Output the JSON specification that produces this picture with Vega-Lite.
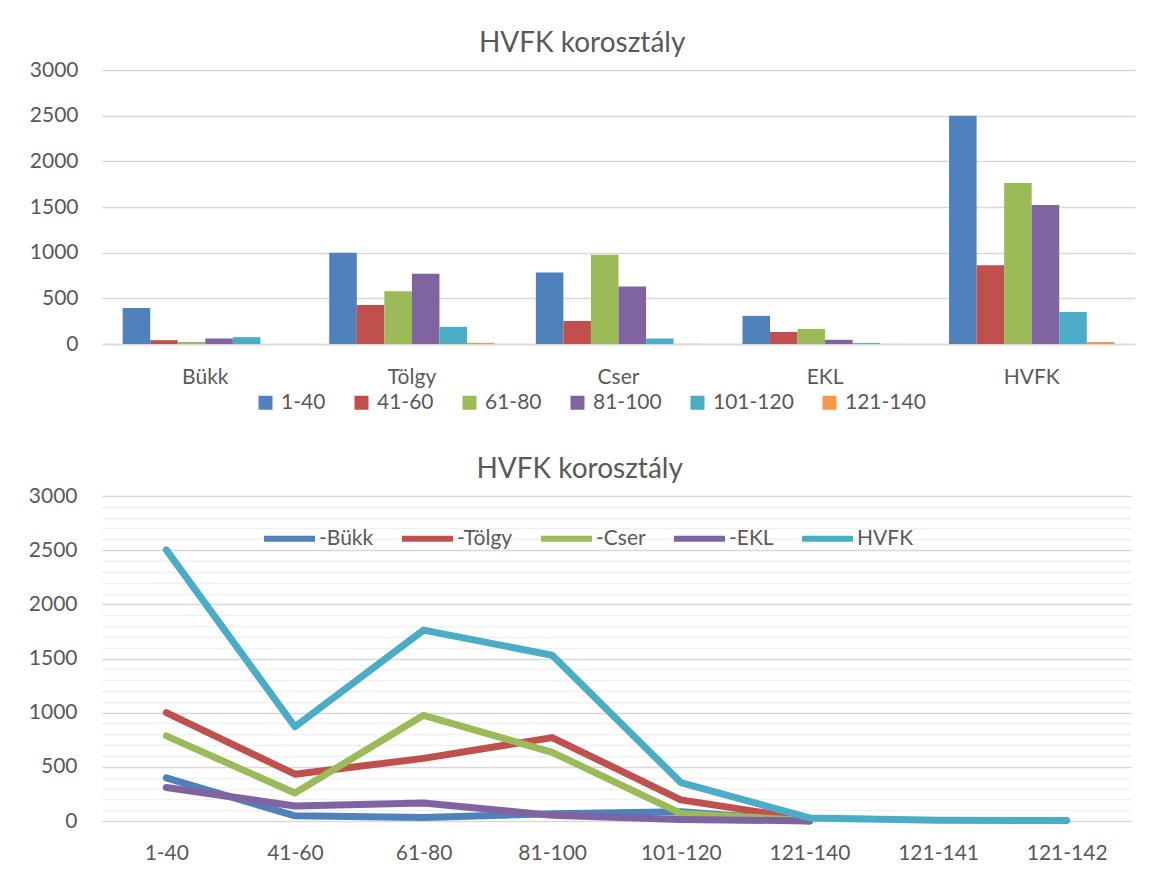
{
  "$schema": "https://vega.github.io/schema/vega-lite/v6.json",
  "background": "white",
  "padding": {"left": 28, "top": 30, "right": 10, "bottom": 5},
  "spacing": 43,
  "resolve": {"scale": {"color": "independent"}, "legend": {"color": "independent"}},
  "config": {
    "font": "Lato",
    "view": {"stroke": null},
    "axis": {
      "labelFont": "Lato",
      "labelColor": "#595959",
      "labelFontSize": 21,
      "ticks": false,
      "domain": false,
      "title": null,
      "gridColor": "#d9d9d9",
      "gridWidth": 1.5
    },
    "title": {
      "font": "Lato",
      "fontSize": 28,
      "color": "#595959",
      "fontWeight": "normal",
      "frame": "bounds",
      "anchor": "middle",
      "offset": 1
    },
    "legend": {
      "labelFont": "Lato",
      "labelColor": "#595959",
      "labelFontSize": 21,
      "title": null
    }
  },
  "datasets": {
    "bars": [
      {"faj": "Bükk", "kor": "1-40", "ertek": 395},
      {"faj": "Bükk", "kor": "41-60", "ertek": 42},
      {"faj": "Bükk", "kor": "61-80", "ertek": 22},
      {"faj": "Bükk", "kor": "81-100", "ertek": 60},
      {"faj": "Bükk", "kor": "101-120", "ertek": 75},
      {"faj": "Bükk", "kor": "121-140", "ertek": 0},
      {"faj": "Tölgy", "kor": "1-40", "ertek": 1000},
      {"faj": "Tölgy", "kor": "41-60", "ertek": 428},
      {"faj": "Tölgy", "kor": "61-80", "ertek": 578},
      {"faj": "Tölgy", "kor": "81-100", "ertek": 768},
      {"faj": "Tölgy", "kor": "101-120", "ertek": 188},
      {"faj": "Tölgy", "kor": "121-140", "ertek": 12},
      {"faj": "Cser", "kor": "1-40", "ertek": 782},
      {"faj": "Cser", "kor": "41-60", "ertek": 252},
      {"faj": "Cser", "kor": "61-80", "ertek": 976},
      {"faj": "Cser", "kor": "81-100", "ertek": 630},
      {"faj": "Cser", "kor": "101-120", "ertek": 60},
      {"faj": "Cser", "kor": "121-140", "ertek": 2},
      {"faj": "EKL", "kor": "1-40", "ertek": 308},
      {"faj": "EKL", "kor": "41-60", "ertek": 132},
      {"faj": "EKL", "kor": "61-80", "ertek": 165},
      {"faj": "EKL", "kor": "81-100", "ertek": 46},
      {"faj": "EKL", "kor": "101-120", "ertek": 10},
      {"faj": "EKL", "kor": "121-140", "ertek": 1},
      {"faj": "HVFK", "kor": "1-40", "ertek": 2500},
      {"faj": "HVFK", "kor": "41-60", "ertek": 862},
      {"faj": "HVFK", "kor": "61-80", "ertek": 1762},
      {"faj": "HVFK", "kor": "81-100", "ertek": 1522},
      {"faj": "HVFK", "kor": "101-120", "ertek": 350},
      {"faj": "HVFK", "kor": "121-140", "ertek": 22}
    ],
    "lines": [
      {"sorozat": "-Bükk", "kor": "1-40", "ertek": 398},
      {"sorozat": "-Bükk", "kor": "41-60", "ertek": 48},
      {"sorozat": "-Bükk", "kor": "61-80", "ertek": 32},
      {"sorozat": "-Bükk", "kor": "81-100", "ertek": 66},
      {"sorozat": "-Bükk", "kor": "101-120", "ertek": 85},
      {"sorozat": "-Bükk", "kor": "121-140", "ertek": 0},
      {"sorozat": "-Tölgy", "kor": "1-40", "ertek": 1000},
      {"sorozat": "-Tölgy", "kor": "41-60", "ertek": 432},
      {"sorozat": "-Tölgy", "kor": "61-80", "ertek": 578},
      {"sorozat": "-Tölgy", "kor": "81-100", "ertek": 770},
      {"sorozat": "-Tölgy", "kor": "101-120", "ertek": 195},
      {"sorozat": "-Tölgy", "kor": "121-140", "ertek": 12},
      {"sorozat": "-Cser", "kor": "1-40", "ertek": 786},
      {"sorozat": "-Cser", "kor": "41-60", "ertek": 258},
      {"sorozat": "-Cser", "kor": "61-80", "ertek": 976},
      {"sorozat": "-Cser", "kor": "81-100", "ertek": 634},
      {"sorozat": "-Cser", "kor": "101-120", "ertek": 70},
      {"sorozat": "-Cser", "kor": "121-140", "ertek": 3},
      {"sorozat": "-EKL", "kor": "1-40", "ertek": 310},
      {"sorozat": "-EKL", "kor": "41-60", "ertek": 138},
      {"sorozat": "-EKL", "kor": "61-80", "ertek": 167},
      {"sorozat": "-EKL", "kor": "81-100", "ertek": 52},
      {"sorozat": "-EKL", "kor": "101-120", "ertek": 14},
      {"sorozat": "-EKL", "kor": "121-140", "ertek": 1},
      {"sorozat": "HVFK", "kor": "1-40", "ertek": 2503},
      {"sorozat": "HVFK", "kor": "41-60", "ertek": 870},
      {"sorozat": "HVFK", "kor": "61-80", "ertek": 1762},
      {"sorozat": "HVFK", "kor": "81-100", "ertek": 1530},
      {"sorozat": "HVFK", "kor": "101-120", "ertek": 355},
      {"sorozat": "HVFK", "kor": "121-140", "ertek": 28},
      {"sorozat": "HVFK", "kor": "121-141", "ertek": 6},
      {"sorozat": "HVFK", "kor": "121-142", "ertek": 5}
    ]
  },
  "vconcat": [
    {
      "width": 1033,
      "height": 274,
      "title": {"text": "HVFK korosztály"},
      "data": {"name": "bars"},
      "mark": {"type": "bar"},
      "encoding": {
        "x": {
          "field": "faj",
          "type": "nominal",
          "sort": ["Bükk", "Tölgy", "Cser", "EKL", "HVFK"],
          "scale": {"paddingInner": 0.2, "paddingOuter": 0.1},
          "axis": {"labelAngle": 0, "labelPadding": 22, "domain": true, "domainColor": "#d9d9d9", "domainWidth": 1.5, "grid": false}
        },
        "xOffset": {
          "field": "kor",
          "type": "nominal",
          "sort": ["1-40", "41-60", "61-80", "81-100", "101-120", "121-140"],
          "scale": {"paddingInner": 0, "paddingOuter": 0}
        },
        "y": {
          "field": "ertek",
          "type": "quantitative",
          "scale": {"domain": [0, 3000]},
          "axis": {"values": [0, 500, 1000, 1500, 2000, 2500, 3000], "format": "d", "labelPadding": 24, "grid": true}
        },
        "color": {
          "field": "kor",
          "type": "nominal",
          "sort": ["1-40", "41-60", "61-80", "81-100", "101-120", "121-140"],
          "scale": {"domain": ["1-40", "41-60", "61-80", "81-100", "101-120", "121-140"], "range": ["#4F81BD", "#C0504D", "#9BBB59", "#8064A2", "#4BACC6", "#F79646"]},
          "legend": {
            "orient": "none",
            "legendX": 153,
            "legendY": 322,
            "direction": "horizontal",
            "symbolType": "square",
            "symbolSize": 196,
            "symbolStrokeWidth": 0,
            "labelOffset": 5,
            "columnPadding": 25
          }
        }
      }
    },
    {
      "width": 1029,
      "height": 325,
      "title": {"text": "HVFK korosztály"},
      "data": {"name": "lines"},
      "mark": {"type": "line", "strokeWidth": 7, "strokeCap": "round", "strokeJoin": "round"},
      "encoding": {
        "x": {
          "field": "kor",
          "type": "ordinal",
          "sort": ["1-40", "41-60", "61-80", "81-100", "101-120", "121-140", "121-141", "121-142"],
          "scale": {"type": "point", "padding": 0.5},
          "axis": {"labelAngle": 0, "labelPadding": 21, "grid": false}
        },
        "y": {
          "field": "ertek",
          "type": "quantitative",
          "scale": {"domain": [0, 3000]},
          "axis": {
            "values": [0, 100, 200, 300, 400, 500, 600, 700, 800, 900, 1000, 1100, 1200, 1300, 1400, 1500, 1600, 1700, 1800, 1900, 2000, 2100, 2200, 2300, 2400, 2500, 2600, 2700, 2800, 2900, 3000],
            "labelExpr": "datum.value % 500 === 0 ? format(datum.value, 'd') : ''",
            "gridColor": {"condition": {"test": "datum.value % 500 === 0", "value": "#d9d9d9"}, "value": "#f0f0f0"},
            "labelPadding": 25
          }
        },
        "color": {
          "field": "sorozat",
          "type": "nominal",
          "sort": ["-Bükk", "-Tölgy", "-Cser", "-EKL", "HVFK"],
          "scale": {"domain": ["-Bükk", "-Tölgy", "-Cser", "-EKL", "HVFK"], "range": ["#4F81BD", "#C0504D", "#9BBB59", "#8064A2", "#4BACC6"]},
          "legend": {
            "orient": "none",
            "legendX": 159,
            "legendY": 14,
            "direction": "horizontal",
            "symbolType": "stroke",
            "symbolSize": 2601,
            "symbolStrokeWidth": 6,
            "labelOffset": 1,
            "columnPadding": 16
          }
        }
      }
    }
  ]
}
